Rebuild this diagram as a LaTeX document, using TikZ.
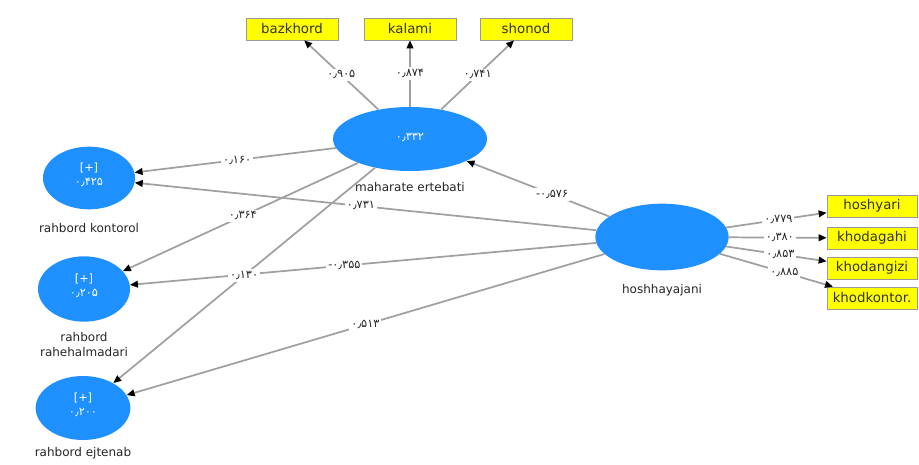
\documentclass[tikz,border=0pt]{standalone}
\usepackage{fontspec}
\setmainfont{DejaVu Sans}
\newfontfamily\fadigits{DejaVu Sans}
\usetikzlibrary{shapes}
\usetikzlibrary{arrows.meta}
\usetikzlibrary{positioning}
\usepackage{xcolor}

\definecolor{latentblue}{RGB}{30,144,255}
\definecolor{indicyellow}{RGB}{255,255,0}
\definecolor{linegray}{RGB}{160,160,160}

\newcommand{\innerval}[1]{\raisebox{6pt}{\shortstack{[+]\\[1pt]#1}}}

\begin{document}
\begin{tikzpicture}[x=0.75pt,y=0.75pt,yscale=-1,xscale=1,
  latentvar/.style={ellipse, fill=latentblue, draw=none, text=white, inner sep=0pt, align=center, font=\fadigits\fontsize{8.5}{10}\selectfont},
  indicbox/.style={rectangle, draw=black!40, line width=0.5pt, fill=indicyellow, minimum width=69pt, minimum height=16.5pt, inner sep=0pt, text=black!80, font=\fontsize{10}{11}\selectfont},
  varname/.style={inner sep=1pt, align=center, text=black!85, font=\fontsize{9}{11}\selectfont},
  pathline/.style={draw=linegray, line width=1.3pt, -{Triangle[length=6pt,width=5pt,color=black]}},
  pathcoef/.style={fill=white, inner sep=1.5pt, text=black!85, font=\fadigits\fontsize{8.5}{9}\selectfont}]
\useasboundingbox (0,0) rectangle (919,464);

%Latent variables
\node [latentvar, minimum width=115.5pt, minimum height=48pt] (mah) at (410,139) {\raisebox{3pt}{۰٫۳۳۲}};
\node [latentvar, minimum width=100pt, minimum height=50pt] (hosh) at (662,237) {};
\node [latentvar, minimum width=69pt, minimum height=47pt] (kon) at (89,178) {\innerval{۰٫۴۲۵}};
\node [latentvar, minimum width=69pt, minimum height=49pt] (rah) at (84,289) {\innerval{۰٫۲۰۵}};
\node [latentvar, minimum width=71pt, minimum height=48pt] (ejt) at (83,408) {\innerval{۰٫۲۰۰}};

% Text Node
\node [varname, below=7pt of mah] (mahname) {maharate ertebati};
\node [varname, below=9pt of kon] (konname) {rahbord kontorol};
\node [varname, below=7pt of rah] (rahname) {rahbord\\rahehalmadari};
\node [varname, below=4pt of ejt] (ejtname) {rahbord ejtenab};
\node [varname, below=9pt of hosh] (hoshname) {hoshhayajani};

%Indicators
\node [indicbox] (baz) at (292,29) {bazkhord};
\node [indicbox] (kal) at (410,29) {kalami};
\node [indicbox] (sho) at (526,29) {shonod};
\node [indicbox, minimum width=67.5pt] (hyar) at (872,206) {hoshyari};
\node [indicbox, minimum width=67.5pt] (hgah) at (872,238) {khodagahi};
\node [indicbox, minimum width=67.5pt] (hang) at (872,268) {khodangizi};
\node [indicbox, minimum width=67.5pt] (hkon) at (872,298) {khodkontor.};

%Outer loadings
\draw [pathline] (mah) -- (baz) node [pathcoef, midway] {۰٫۹۰۵};
\draw [pathline] (mah) -- (kal) node [pathcoef, midway] {۰٫۸۷۴};
\draw [pathline] (mah) -- (sho) node [pathcoef, midway] {۰٫۷۴۱};
\draw [pathline] (hosh) -- (hyar) node [pathcoef, pos=0.52] {۰٫۷۷۹};
\draw [pathline] (hosh) -- (hgah) node [pathcoef, pos=0.52] {۰٫۳۸۰};
\draw [pathline] (hosh) -- (hang) node [pathcoef, pos=0.54] {۰٫۸۵۳};
\draw [pathline] (hosh) -- (hkon) node [pathcoef, pos=0.57] {۰٫۸۸۵};

%Inner paths
\draw [pathline] (hosh) -- (mah) node [pathcoef, pos=0.4] {-۰٫۵۷۶};
\draw [pathline] (mah) -- (kon) node [pathcoef, pos=0.49] {۰٫۱۶۰};
\draw [pathline] (hosh) -- (kon) node [pathcoef, pos=0.51] {۰٫۷۳۱};
\draw [pathline] (mah) -- (rah) node [pathcoef, pos=0.49] {۰٫۳۶۴};
\draw [pathline] (hosh) -- (rah) node [pathcoef, pos=0.54] {-۰٫۳۵۵};
\draw [pathline] (mah) -- (ejt) node [pathcoef, pos=0.5] {۰٫۱۳۰};
\draw [pathline] (hosh) -- (ejt) node [pathcoef, pos=0.5] {۰٫۵۱۳};

\end{tikzpicture}
\end{document}
